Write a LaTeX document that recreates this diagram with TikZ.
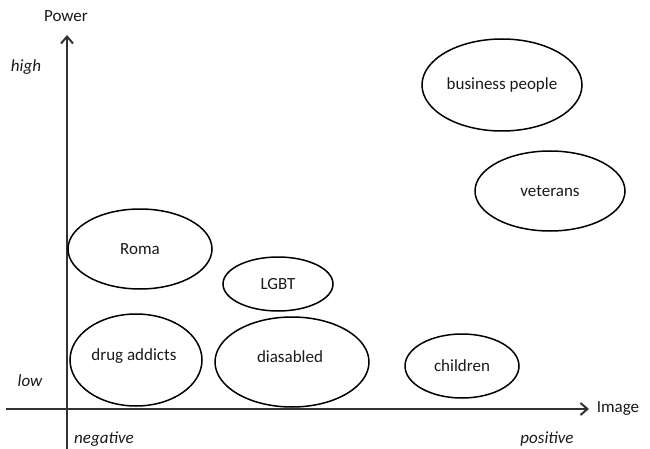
\documentclass[tikz,border=0pt]{standalone}
\usepackage{fontspec}
\setmainfont{Carlito}
\usetikzlibrary{arrows.meta,shapes.geometric}
\begin{document}
\begin{tikzpicture}[x=1pt,y=-1pt,
  axis/.style={line width=2pt,draw=black!80},
  grp/.style={draw=black,line width=1.5pt,ellipse,inner sep=0pt,anchor=center},
  lbl/.style={font=\fontsize{17}{20}\selectfont,inner sep=0pt,anchor=center,text=black!90},
  ilbl/.style={font=\fontsize{17}{20}\selectfont\itshape,inner sep=0pt,anchor=center,text=black!90}]
\useasboundingbox (0,0) rectangle (650,449);
% axes
\coordinate (ybot) at (67,449);
\coordinate (ytop) at (67,35);
\coordinate (xl) at (6,409);
\coordinate (xr) at (589,409);
\draw[axis,-{Straight Barb[length=7pt,width=12pt,line width=2pt]}] (ybot) -- (ytop);
\draw[axis,-{Straight Barb[length=7pt,width=12pt,line width=2pt]}] (xl) -- (xr);
% axis labels
\node[lbl] (power) at (66,16) {Power};
\node[lbl] (image) at (618,409) {Image};
\node[ilbl] (high) at (26,67) {high};
\node[ilbl] (low) at (30,381) {low};
\node[ilbl] (neg) at (104,439) {negative};
\node[ilbl] (pos) at (547,439) {positive};
% groups
\node[grp,minimum width=160pt,minimum height=92pt] (bp) at (502,85) {};
\node[lbl] (bpt) at (bp.center) {business people};
\node[grp,minimum width=150pt,minimum height=80pt] (vet) at (550,191) {};
\node[lbl] (vett) at (vet.center) {veterans};
\node[grp,minimum width=144pt,minimum height=80pt] (roma) at (140,249) {};
\node[lbl] (romat) at (roma.center) {Roma};
\node[grp,minimum width=110pt,minimum height=54pt] (lgbt) at (278,284) {};
\node[lbl] (lgbtt) at (lgbt.center) {LGBT};
\node[grp,minimum width=132pt,minimum height=92pt] (drug) at (136,360) {};
\node[lbl] (drugt) at (134,356) {drug addicts};
\node[grp,minimum width=154pt,minimum height=90pt] (dis) at (292,362) {};
\node[lbl] (dist) at (290,357) {diasabled};
\node[grp,minimum width=114pt,minimum height=64pt] (chi) at (462,366) {};
\node[lbl] (chit) at (462,366) {children};
\end{tikzpicture}
\end{document}
